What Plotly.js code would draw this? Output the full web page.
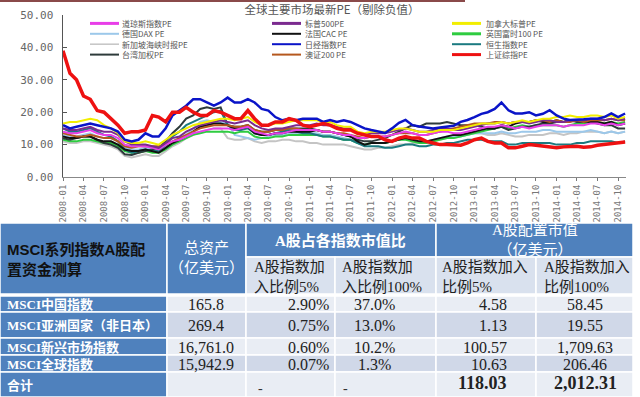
<!DOCTYPE html>
<html><head><meta charset="utf-8">
<script src="https://cdn.plot.ly/plotly-3.0.1.min.js"></script>
<style>html,body{margin:0;padding:0;background:#fff}#chart{width:640px;height:397px}</style>
</head><body><div id="chart"></div>
<script>
// ---------- line chart data ----------
const chartTitle = '全球主要市场最新PE（剔除负值）';
const seriesNames = ['道琼斯指数PE','标普500PE','加拿大标普PE','德国DAX PE','法国CAC PE','英国富时100 PE',
  '新加坡海峡时报PE','日经指数PE','恒生指数PE','台湾加权PE','澳证200 PE','上证综指PE'];
const seriesColors = ['#e83ee8','#7b2a8f','#f2ee00','#9cc8ea','#111111','#2ecc40',
  '#c4c4c4','#0a14c8','#1b7a80','#2e3b3b','#b5581e','#ee1111'];
const seriesWidths = [2,2,2,2,2,2,2,2.5,2,2,2,3.5];
const legendWidths = [3,3,3,2,2,3,1.5,2,2,2,2,3];

const pe_dji = [14,13.5,13.5,14,14.5,13.5,13,13,12,10,9.5,9.5,
  9.5,9,8.5,10,11,11.5,12.5,13.5,14,14.5,15,15,
  15,14.5,15,15.5,14,13.5,13,13.5,13.5,14,14.5,14.5,
  14.5,14.5,14,14,13.5,13,13,12,12,12.5,12.5,12.5,
  13,13.5,14,13.5,13,13,13.5,14,14,13.5,13.5,14,
  14.5,15,15.5,15.5,16,15.5,15,15.5,15,15.5,16,16,
  16,15.5,16,16,16,16.5,16.5,16,16.5,16,16.5];
const pe_sp500 = [15,14.5,14.5,15,15.5,14.5,14,14,13,11,10,10,
  10,9.5,9,10.5,12,12.5,14,15,16,16.5,17,17.5,
  17,16.5,17,17.5,16,15,14.5,15,15,15.5,16,16,
  16,16.5,16,16,15.5,15,15,13.5,13,13.5,13.5,13.5,
  14,14.5,15,14.5,14,14,14.5,15,15,14.5,14.5,15,
  15.5,16,16.5,16.5,17,16.5,17,17,16.5,17,17.5,17.5,
  17,17,17.5,17.5,17.5,18,18,17.5,18,17.5,18];
const pe_tsx = [16.5,17,17,17.5,18,17.5,16,15,13.5,11,10.5,10.5,
  11,10.5,10,11.5,13,14,15,16,16.5,17,17.5,18,
  18,17.5,18,18.5,17,16,16,16.5,16.5,17,17.5,17.5,
  17.5,17.5,17,17,16,15.5,15.5,14,13.5,14,14,14,
  14.5,15,15,14.5,14,14,14,14.5,14.5,14.5,15,15.5,
  16,16.5,16.5,16.5,17,16.5,17,17.5,17,17.5,18,18,
  18.5,18.5,19,18.5,18.5,19,19,18.5,19,18,18.5];
const pe_dax = [13,12.5,12.5,13,13.5,12.5,12,12,11,9,8.5,8.5,
  9,8.5,8,9.5,11,12,13,15,17,17.5,17,17,
  16.5,13,12.5,12,11.5,12,12.5,13,13,13.5,13.5,13.5,
  13.5,13.5,13,13,12.5,12,11.5,10.5,10,10.5,10.5,10.5,
  11,11.5,12,11.5,11,11,11.5,12,12.5,12.5,12.5,13,
  13.5,13.5,13.5,13.5,14,13.5,13.5,14,14,14,14.5,14.5,
  14,14,14,14,14,14.5,14,13.5,14,13.5,14];
const pe_cac = [12.5,12,12,12.5,12.5,11.5,11,11,10,8.5,8,8,
  8.5,8,7.5,9,10.5,11.5,12.5,14,15.5,16,16.5,16.5,
  16,15,15,15.5,13.5,13,13,13.5,13.5,14,14,14,
  14,14.5,14,14,13.5,13,12.5,11,10,10.5,10.5,10.5,
  11,11.5,12,11.5,11,11,11.5,12,12.5,13,13,13.5,
  14,14.5,15,15,16,15.5,16.5,17,17,17.5,17,17,
  17.5,17,17.5,17.5,17.5,17,17,16.5,17,16,16.5];
const pe_ftse = [11.5,11,11,11.5,11.5,11,10.5,10.5,9.5,8,7.5,7.5,
  8,7.5,7.5,8.5,10,11,12,13,13.5,14,14,14,
  14,13.5,14,14,12.5,12,12,12.5,12.5,13,13,13,
  13,13,12.5,12.5,12,11.5,11.5,10.5,10,10.5,10.5,10.5,
  11,11.5,11.5,11,10.5,10.5,11,11.5,12,12,12.5,13,
  13.5,14,14.5,15,15.5,15,15.5,16,15.5,16,16,16,
  16,15.5,16,16.5,16.5,17,17,16.5,17,16.5,17];
const pe_sti = [11,10.5,10.5,11,11,10.5,10,9.5,8.5,6.5,6,6.5,
  7,6.5,6.5,8,9.5,10.5,12,13,14,14.5,15,15,
  12,11.5,11.5,12,11,10.5,11,11,11.5,11.5,11,11,
  10.5,10.5,10,10,10,10,9.5,9,8.5,8.5,9,9,
  9.5,10,10,10.5,10.5,10.5,11,11.5,12,12,12.5,13,
  13.5,13.5,13,13,13.5,13,12.5,12.5,13,13,13,13.5,
  13.5,13,13.5,13.5,14,14,14,13.5,14,13.5,14];
const pe_nikkei = [16,15,15.5,16,16.5,16,15.5,15,14,11.5,11,11.5,
  13.5,12.5,12.5,15,19,20.5,22,24,24,23,22,23,
  24.5,23,23,24,23,21,20.5,18.5,17.5,18,17.5,18,
  18,18,17,17.6,17,17.5,17,16,15,14.5,14,13.6,
  15,16.7,17.6,16,15.6,15.2,15,15.3,15.6,15.8,17,17.6,
  18.5,19.5,20,21,23,20.6,19.6,19.6,20,19,19.5,20.6,
  19,18,17.6,17.6,17.8,18,18,18.5,19.6,18.5,19.6];
const pe_hsi = [15,14,14,14.5,15,14,13,12.5,11,8.5,7.5,8,
  8.5,8,8,10,12.5,14,16,17,18,19,20,20.5,
  16,14.5,14.5,15,13.5,13,13,13.5,14,14.5,14,13.5,
  13.5,13,12.5,12.5,12,11.5,11.5,10.5,9.5,9.5,9.5,9,
  9,9.5,10,10,9.5,9.5,10,10,10.5,10.5,11,11.5,
  11.5,11.5,11,11,11,10,10,10.5,10.5,10.5,10.5,10.5,
  10,10,10,10.5,10.5,11,11,11,11,10.5,11];
const pe_twse = [12,11.5,12,12.5,12.5,11.5,10.5,10,9,7,6.8,7.5,
  8,8.5,9,11,13.5,15.5,18,19,21,21.5,21,21.5,
  16,15.5,15.5,16,14.5,14,14,14.5,14.5,15,15,15,
  15,14.5,14,14,13.5,13,12.5,11.5,11,11,11.5,12,
  13,14,15,16,15.5,16.5,16.5,16.5,17,16.5,16,16,
  16,15.5,15,15,15.5,14.5,15,15.5,15.5,16,16.5,16.5,
  17,17,17.5,17,17,17,16.5,16,16,15,15];
const pe_asx = [13.5,13,12.5,12.5,13,12.5,12,12,11,9.5,9,9.5,
  9.5,9.5,9.5,10,11,12,13,14,15,15.5,16,16,
  16,15.5,15.5,16,14.5,14,14,14.5,14.5,15,15,14.5,
  14.5,14.5,14,14,13.5,13.5,13,12.5,12,12.5,12.5,12.5,
  13,13.5,13.5,13.5,13,13,13.5,14,14.5,15,15.5,16,
  16.5,16.5,16.5,17,17,16.5,17,17,17,17.5,17.5,17,
  17.5,17,17,17.5,17,17.5,17.5,17.5,18,17.5,17.5];
const pe_sse = [39,32,30,25,24,20.5,20,18,16,13.5,14,14,
  14.5,19,18.5,17,20,20,21.5,20,19,19,20.5,20,
  19,18,18,20.5,18,16,16,17,17,18,17.5,16,
  15.5,16,16.5,16,15,14.5,14.5,13.5,13,12.5,12.5,11.5,
  11,12,12.5,12,12,11,10.5,10,10,10,9.8,10.5,
  11.5,12,11,10.5,10.5,9,9,9.5,10,9.8,9.5,9.2,
  9,9.3,9.3,9.5,9.2,9.3,9.8,10,10.3,10.5,10.8];
const seriesValues = [pe_dji,pe_sp500,pe_tsx,pe_dax,pe_cac,pe_ftse,pe_sti,pe_nikkei,pe_hsi,pe_twse,pe_asx,pe_sse];

// month dates 2008-01 .. 2014-11
const dates = [];
for (let y = 2008; y <= 2014; y++) for (let m = 1; m <= 12; m++) {
  if (y === 2014 && m > 11) break;
  dates.push(y + '-' + String(m).padStart(2,'0') + '-01');
}

// ---------- table data ----------
const tableTitle = 'MSCI系列指数A股配<br>置资金测算';
const headAssets = '总资产<br>（亿美元）';
const headShare = 'A股占各指数市值比';
const headAlloc = 'A股配置市值<br>（亿美元）';
const subHeads = ['A股指数加<br>入比例5%','A股指数加<br>入比例100%','A股指数加入<br>比例5%','A股指数加入<br>比例100%'];
const rowNames = ['MSCI中国指数','MSCI亚洲国家（非日本）','MSCI新兴市场指数','MSCI全球指数','合计'];
const totalAssets = ['165.8','269.4','16,761.0','15,942.9',''];
const share5 = ['2.90%','0.75%','0.60%','0.07%','-'];
const share100 = ['37.0%','13.0%','10.2%','1.3%','-'];
const alloc5 = ['4.58','1.13','100.57','10.63','118.03'];
const alloc100 = ['58.45','19.55','1,709.63','206.46','2,012.31'];

// ---------- geometry helpers (pixel -> paper) ----------
const L = 63, R = 626, T = 15, B = 177;
const px = x => (x - L) / (R - L);
const py = y => (B - y) / (B - T);

const shapes = [];
const annotations = [];
const CJK = 'Noto Sans CJK SC';
const SERIF = 'Liberation Serif, Noto Sans CJK SC';

// top decorative line
shapes.push({type:'line', xref:'paper', yref:'paper', x0:px(0), x1:px(465), y0:py(1), y1:py(1), line:{color:'#8a4a4a', width:2}});

// legend (manual, 3 columns x 4 rows; one text block per column)
const legLineX = [90, 272, 452], legTextX = [121, 304, 485];
const legFont = 8, legStep = legFont * 1.3, legMid = 39;
for (let c = 0; c < 3; c++) {
  const names = [];
  for (let r = 0; r < 4; r++) {
    const i = r * 3 + c;
    names.push(seriesNames[i]);
    const yy = legMid + (r - 1.5) * legStep;
    shapes.push({type:'line', xref:'paper', yref:'paper', x0:px(legLineX[c]), x1:px(legLineX[c] + 29), y0:py(yy), y1:py(yy),
      line:{color:seriesColors[i], width:legendWidths[i]}});
  }
  annotations.push({xref:'paper', yref:'paper', x:px(legTextX[c]), y:py(legMid), xanchor:'left', yanchor:'middle', showarrow:false,
    align:'left', borderpad:0, text:names.join('<br>'), font:{family:CJK, size:legFont, color:'#555'}});
}

// table cells
const HB = '#4f81bd', SUB = '#d9e1ee', LIGHT = '#e9edf4', DARK = '#d0d8e8';
function cell(x0, x1, y0, y1, fill) {
  shapes.push({type:'rect', xref:'paper', yref:'paper', x0:px(x0), x1:px(x1), y0:py(y0), y1:py(y1),
    fillcolor:fill, line:{color:'#ffffff', width:1.5}});
}
function txt(x, y, t, anchor, size, color, fam) {
  annotations.push({xref:'paper', yref:'paper', x:px(x), y:py(y), xanchor:anchor, yanchor:'middle', showarrow:false,
    text:t, align:anchor === 'center' ? 'center' : 'left', font:{family:fam || SERIF, size:size, color:color}});
}
const colX = [0, 167, 246, 335, 436, 536, 633];
// header
cell(0, 167, 223, 294, HB);
cell(167, 246, 223, 294, HB);
cell(246, 436, 223, 257, HB);
cell(436, 633, 223, 257, HB);
for (let c = 2; c < 6; c++) cell(colX[c], colX[c + 1], 257, 294, SUB);
txt(5, 259, '<b>' + tableTitle + '</b>', 'left', 15, '#111', 'Liberation Sans, ' + CJK);
txt(206, 258, headAssets, 'center', 15, '#ffffff', SERIF);
txt(340, 240, '<b>' + headShare + '</b>', 'center', 15, '#ffffff', SERIF);
txt(535, 240, headAlloc, 'center', 15, '#ffffff', SERIF);
const subX = [252, 340, 440, 542];
subHeads.forEach((s, i) => txt(subX[i], 277, s, 'left', 15, '#222', SERIF));

// body rows
const rowY = [296, 312, 338, 355, 372, 397];
rowNames.forEach((nm, r) => {
  const y0 = rowY[r], y1 = rowY[r + 1], yc = (y0 + y1) / 2 + 0.5;
  const fill = r % 2 === 0 ? LIGHT : DARK;
  cell(0, 167, y0, y1, HB);
  for (let c = 1; c < 6; c++) cell(colX[c], colX[c + 1], y0, y1, fill);
  txt(5, yc, '<b>' + nm + '</b>', 'left', 13, '#ffffff', SERIF);
  const bold = r === 4;
  const w = s => bold && s !== '-' ? '<b>' + s + '</b>' : s;
  if (totalAssets[r]) txt(206, yc, totalAssets[r], 'center', 16, '#222');
  if (share5[r] === '-') txt(256, yc + 3, '-', 'left', 14, '#333'); else txt(331, yc, share5[r], 'right', 16, '#222');
  if (share100[r] === '-') txt(341, yc + 3, '-', 'left', 14, '#333'); else txt(374, yc, share100[r], 'center', 16, '#222');
  txt(509, yc - (bold ? 2 : 0), w(alloc5[r]), 'right', bold ? 18 : 16, '#222');
  txt(585, yc - (bold ? 2 : 0), w(alloc100[r]), 'center', bold ? 18 : 16, '#222');
});

// ---------- traces ----------
const drawOrder = [6,3,5,9,8,4,10,0,1,2,7,11];
const traces = drawOrder.map(i => ({
  type:'scatter', mode:'lines', x:dates, y:seriesValues[i], name:seriesNames[i],
  line:{color:seriesColors[i], width:seriesWidths[i]}, showlegend:false, hoverinfo:'skip'
}));

const layout = {
  width:640, height:397,
  margin:{l:L, r:640 - R, t:T, b:397 - B, pad:0},
  paper_bgcolor:'#ffffff', plot_bgcolor:'#ffffff',
  showlegend:false,
  title:{text:chartTitle, x:332/640, xref:'container', xanchor:'center', y:1 - 10/397, yref:'container', yanchor:'middle',
    font:{family:CJK, size:11.5, color:'#555'}},
  xaxis:{type:'date', range:['2008-01-01','2014-11-05'], tick0:'2008-01-01', dtick:'M3', tickformat:'%Y-%m',
    tickangle:-90, ticks:'outside', ticklen:3, tickcolor:'#777', showgrid:false, zeroline:false,
    showline:true, linecolor:'#888', linewidth:1, tickfont:{family:'DejaVu Sans Mono', size:9, color:'#777'}},
  yaxis:{range:[0,50], dtick:10, tickformat:'.2f', ticks:'inside', ticklen:4, tickcolor:'#555',
    showgrid:false, zeroline:false, showline:true, linecolor:'#555', linewidth:1.5, ticklabelstandoff:6,
    tickfont:{family:'DejaVu Sans Mono', size:11, color:'#666'}},
  shapes:shapes, annotations:annotations
};
Plotly.newPlot('chart', traces, layout, {staticPlot:true, displayModeBar:false});
</script></body></html>
